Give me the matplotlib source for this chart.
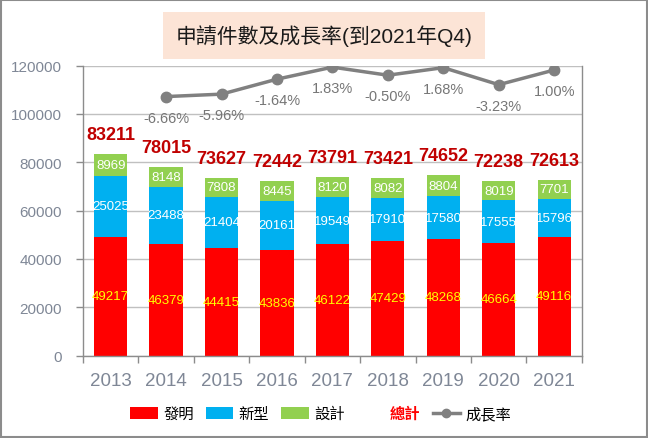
import numpy as np
import matplotlib
matplotlib.use('Agg')
import matplotlib.pyplot as plt
from matplotlib.patches import Patch, Rectangle
from matplotlib.lines import Line2D

plt.rcParams['font.family'] = ['Liberation Sans', 'Noto Sans CJK TC', 'DejaVu Sans']

# Daten
years = ['2013', '2014', '2015', '2016', '2017', '2018', '2019', '2020', '2021']
invention = [49217, 46379, 44415, 43836, 46122, 47429, 48268, 46664, 49116]   # 發明
utility = [25025, 23488, 21404, 20161, 19549, 17910, 17580, 17555, 15796]     # 新型
design = [8969, 8148, 7808, 8445, 8120, 8082, 8804, 8019, 7701]               # 設計
totals = [83211, 78015, 73627, 72442, 73791, 73421, 74652, 72238, 72613]      # 總計
growth_years = ['2014', '2015', '2016', '2017', '2018', '2019', '2020', '2021']
growth = [-6.66, -5.96, -1.64, 1.83, -0.50, 1.68, -3.23, 1.00]                # 成長率 (%)

c_red = '#FF0000'
c_blue = '#00B0F0'
c_green = '#92D050'
c_total = '#C00000'
c_line = '#808080'
c_tick = '#7F8796'
c_axis = '#8C8C8C'

fig = plt.figure(figsize=(6.48, 4.39), dpi=100)
ax = fig.add_axes([0.128, 0.1875, 0.770, 0.661])

x = np.arange(len(years))
w = 0.6
inv = np.array(invention)
uti = np.array(utility)
des = np.array(design)

ax.bar(x, inv, w, color=c_red, zorder=2)
ax.bar(x, uti, w, bottom=inv, color=c_blue, zorder=2)
ax.bar(x, des, w, bottom=inv + uti, color=c_green, zorder=2)

# Beschriftungen in den Segmenten
for i in range(len(years)):
    ax.text(x[i], inv[i] / 2, str(inv[i]), ha='center', va='center',
            fontsize=9.5, color='#FFFF00', zorder=3)
    ax.text(x[i], inv[i] + uti[i] / 2, str(uti[i]), ha='center', va='center',
            fontsize=9.5, color='white', zorder=3)
    ax.text(x[i], inv[i] + uti[i] + des[i] / 2, str(des[i]), ha='center', va='center',
            fontsize=9.5, color='white', zorder=3)
    ax.annotate(str(totals[i]), (x[i], totals[i]), xytext=(0, 19.5),
                textcoords='offset pixels', ha='center', va='center',
                fontsize=13, fontweight='bold', color=c_total, zorder=3)

ax.set_xlim(-0.5, len(years) - 0.5)
ax.set_ylim(0, 120000)
ax.set_yticks(np.arange(0, 120001, 20000))
ax.set_xticks(x)
ax.set_xticklabels(years)
ax.set_xticks(np.arange(-0.5, len(years), 1), minor=True)
ax.tick_params(axis='x', which='major', length=0, pad=12, labelsize=13.5, labelcolor=c_tick)
ax.tick_params(axis='x', which='minor', length=5, width=1, color=c_axis, direction='out')
ax.tick_params(axis='y', length=5, width=1, color=c_axis, pad=10, labelsize=11, labelcolor=c_tick)
ax.yaxis.grid(True, color='#C0C0C0', linewidth=1, zorder=0)
ax.set_axisbelow(True)
ax.spines['top'].set_visible(False)
for s in ['left', 'bottom', 'right']:
    ax.spines[s].set_color(c_axis)
    ax.spines[s].set_linewidth(1)

# Wachstumsrate auf unsichtbarer Zweitachse
ax2 = ax.twinx()
ax2.set_ylim(-81.4, 2.3)
gx = [years.index(y) for y in growth_years]
ax2.plot(gx, growth, color=c_line, linewidth=2.5, marker='o', markersize=7.5, zorder=4)
for xi, g in zip(gx, growth):
    ax2.annotate(f'{g:.2f}%', (xi, g), xytext=(0, -21), textcoords='offset pixels',
                 ha='center', va='center', fontsize=10.5, color='#767676')
ax2.set_yticks([])
for s in ax2.spines.values():
    s.set_visible(False)

# Titel mit Kasten
fig.text(0.5, 0.917, '申請件數及成長率(到2021年Q4)', ha='center', va='center',
         fontsize=15, color='#1A1A1A',
         bbox=dict(boxstyle='square,pad=0.6', facecolor='#FCE4D6', edgecolor='none'))

# Legende
handles = [
    Patch(facecolor=c_red),
    Patch(facecolor=c_blue),
    Patch(facecolor=c_green),
    Patch(facecolor='none', edgecolor='none'),
    Line2D([0], [0], color=c_line, linewidth=2.5, marker='o', markersize=6),
]
labels = ['發明', '新型', '設計', '總計', '成長率']
leg = fig.legend(handles, labels, loc='center', bbox_to_anchor=(0.495, 0.055), ncol=5,
                 frameon=False, fontsize=11, handlelength=1.8, handleheight=0.8,
                 handletextpad=0.35, columnspacing=0.8)
leg.get_texts()[3].set_color('#FF0000')
leg.get_texts()[3].set_fontweight('bold')

# Rahmen um die ganze Grafik
fig.patches.append(Rectangle((0.002, 0.003), 0.996, 0.994, transform=fig.transFigure,
                             fill=False, edgecolor='#8C8C8C', linewidth=1.5))

fig.savefig('out.png', dpi=100)
